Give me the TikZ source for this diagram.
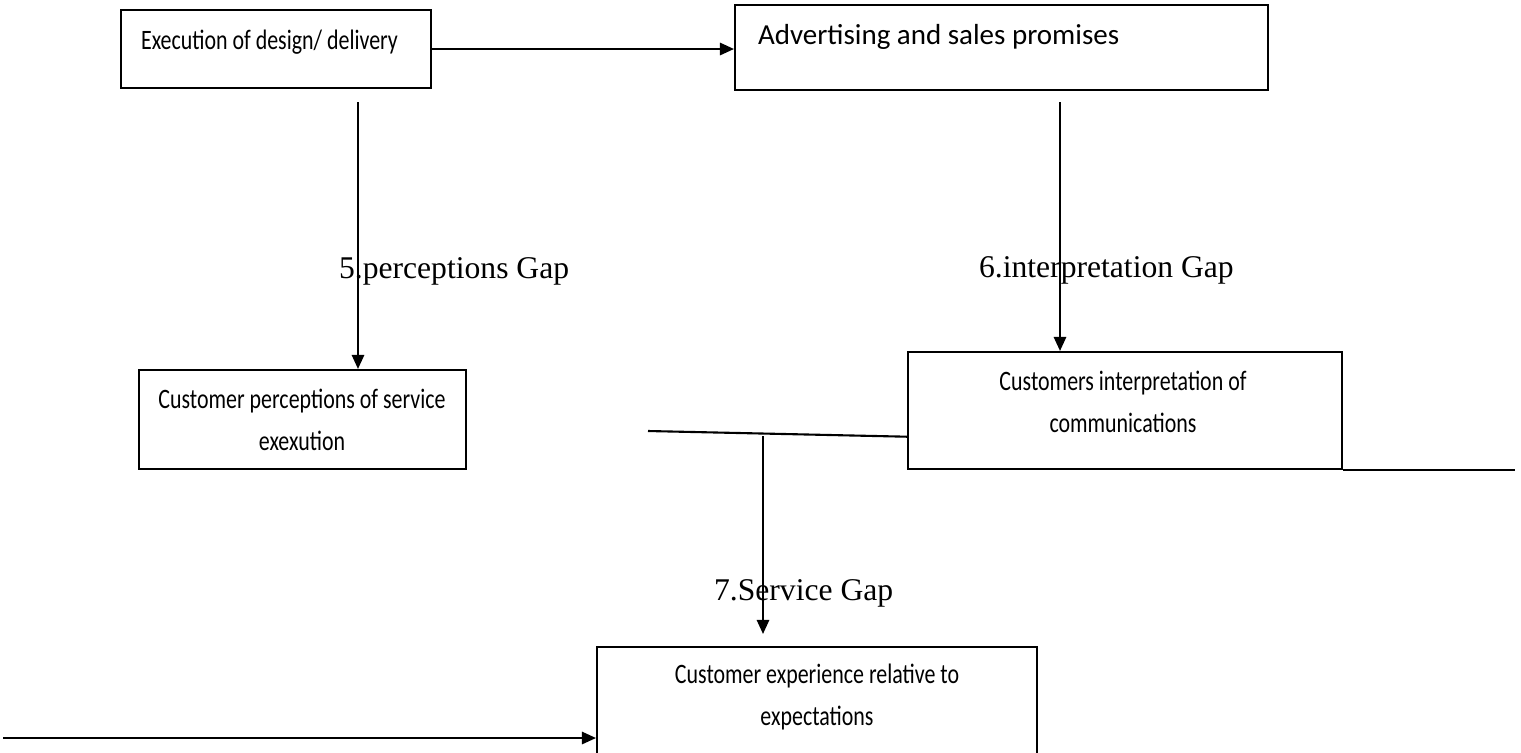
\documentclass[tikz,border=0pt]{standalone}
\usepackage{fontspec}
\setmainfont{Liberation Serif}
\newfontfamily\boxfont{Carlito}[FakeStretch=0.78]
\newfontfamily\wideboxfont{Carlito}
\usetikzlibrary{arrows.meta,calc}

\begin{document}
\begin{tikzpicture}[x=0.02cm,y=-0.02cm,line width=1.2pt,>={Triangle[length=8pt,width=7pt]},
  gapbox/.style={draw,rectangle,inner sep=0pt},
  boxtext/.style={font=\boxfont\fontsize{16}{24}\selectfont,inner sep=0pt,align=center},
  gaplabel/.style={font=\fontsize{18}{21}\selectfont,inner sep=0pt,anchor=west}]
\useasboundingbox (0,0) rectangle (1521,752);
% 上排两框
\node[gapbox,minimum width=6.2cm,minimum height=1.56cm] (exec) at (276,49) {};
\node[boxtext,anchor=west] (exectxt) at (140,42) {Execution of design/ delivery};
\node[gapbox,minimum width=10.66cm,minimum height=1.7cm] (adv) at (1001.5,47.5) {};
\node[boxtext,font=\wideboxfont\fontsize{16.5}{24}\selectfont,anchor=west] (advtxt) at (757,37) {Advertising and sales promises};
% 中排两框
\node[gapbox,minimum width=6.54cm,minimum height=1.98cm] (cust) at (302.5,419.5) {};
\node[boxtext] (custtxt) at (302,420) {Customer perceptions of service\\exexution};
\node[gapbox,minimum width=8.68cm,minimum height=2.34cm] (interp) at (1125,410.5) {};
\node[boxtext] (interptxt) at (1123,402) {Customers interpretation of\\communications};
% 底框（下边超出页面）
\node[gapbox,minimum width=8.8cm,minimum height=3.06cm] (expt) at (817,723.5) {};
\node[boxtext] (expttxt) at (817,697) {Customer experience relative to\\expectations};
% 连线
\draw[->] (exec.east) -- (exec.east -| adv.west);
\coordinate (p5) at (358,102);
\draw[->] (p5) -- (p5 |- cust.north);
\coordinate (p6) at (1060,102);
\draw[->] (p6) -- (p6 |- interp.north);
\coordinate (s0) at (648,431);
\draw (s0) -- ($(interp.south west)!0.28!(interp.north west)$);
\coordinate (s2) at (763,436);
\draw[->,shorten >=0.24cm] (s2) -- (s2 |- expt.north);
\coordinate (r1) at (1515,467);
\draw (interp.south east) -- (r1 |- interp.south east);
\coordinate (l0) at (3,738);
\draw[->] (l0) -- (l0 -| expt.west);
% 差距标注
\node[gaplabel] (g5) at (338,271) {5.perceptions Gap};
\node[gaplabel] (g6) at (978,270) {6.interpretation Gap};
\node[gaplabel] (g7) at (713,593) {7.Service Gap};
\end{tikzpicture}
\end{document}
